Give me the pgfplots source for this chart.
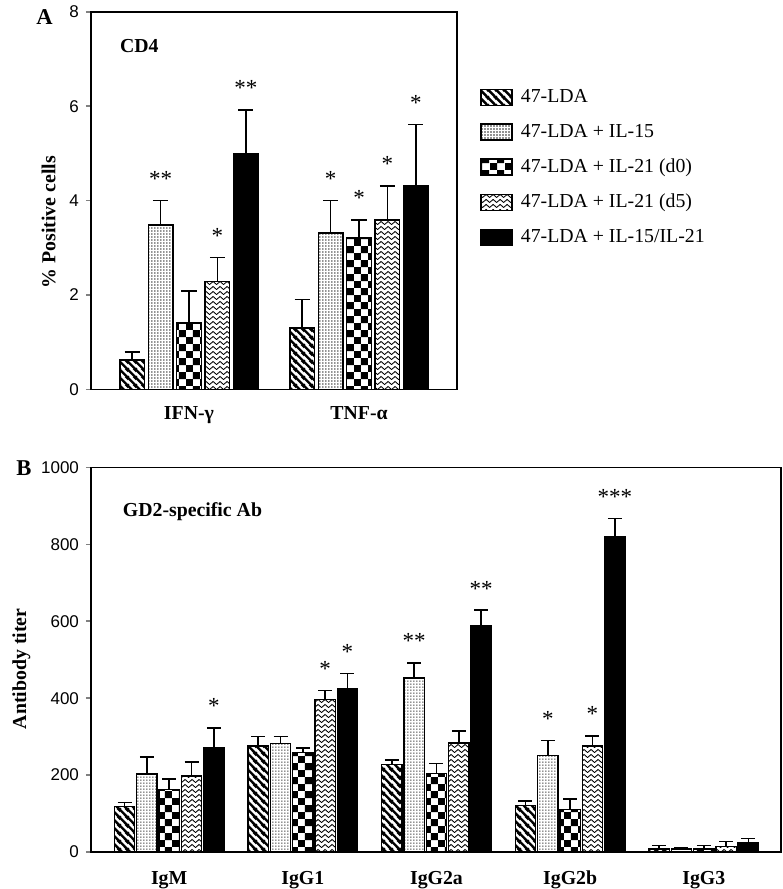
\documentclass[border=0pt]{standalone}
\usepackage{fontspec}
\setmainfont{Liberation Serif}
\newfontfamily\sansf{Liberation Sans}
\usepackage{pgfplots}
\pgfplotsset{compat=1.18}
\usetikzlibrary{patterns}

% fill patterns of the five groups
\pgfdeclarepatternformonly{stripes}{\pgfqpoint{0pt}{0pt}}{\pgfqpoint{4pt}{4pt}}{\pgfqpoint{4pt}{4pt}}{
  \pgfsetlinewidth{1.3pt}
  \pgfpathmoveto{\pgfqpoint{-1pt}{1pt}}\pgfpathlineto{\pgfqpoint{1pt}{-1pt}}
  \pgfpathmoveto{\pgfqpoint{-1pt}{5pt}}\pgfpathlineto{\pgfqpoint{5pt}{-1pt}}
  \pgfpathmoveto{\pgfqpoint{3pt}{5pt}}\pgfpathlineto{\pgfqpoint{5pt}{3pt}}
  \pgfusepath{stroke}}
\pgfdeclarepatternformonly{finedots}{\pgfqpoint{0pt}{0pt}}{\pgfqpoint{1.4pt}{1.4pt}}{\pgfqpoint{1.4pt}{1.4pt}}{
  \pgfpathrectangle{\pgfqpoint{0.2pt}{0.2pt}}{\pgfqpoint{0.6pt}{0.6pt}}
  \pgfusepath{fill}}
\pgfdeclarepatternformonly{checker}{\pgfqpoint{0pt}{0pt}}{\pgfqpoint{7.2pt}{7.2pt}}{\pgfqpoint{7.2pt}{7.2pt}}{
  \pgfpathrectangle{\pgfqpoint{0pt}{0pt}}{\pgfqpoint{3.6pt}{3.6pt}}
  \pgfpathrectangle{\pgfqpoint{3.6pt}{3.6pt}}{\pgfqpoint{3.6pt}{3.6pt}}
  \pgfusepath{fill}}
\pgfdeclarepatternformonly{zigzag}{\pgfqpoint{0pt}{0pt}}{\pgfqpoint{3.5pt}{2.6pt}}{\pgfqpoint{3.5pt}{2.6pt}}{
  \pgfsetlinewidth{0.5pt}
  \pgfpathmoveto{\pgfqpoint{-0.5pt}{0.07pt}}
  \pgfpathlineto{\pgfqpoint{1.75pt}{2.0pt}}
  \pgfpathlineto{\pgfqpoint{4.0pt}{0.07pt}}
  \pgfusepath{stroke}}

\pgfplotsset{
  panel/.style={
    scale only axis, clip=false,
    axis line style={line width=0.8pt},
    tick align=outside, ytick pos=left, xtick style={draw=none},
    ytick style={line width=0.8pt}, major tick length=2.5pt,
    yticklabel style={font=\sansf\fontsize{8.5}{9.5}\selectfont},
    /pgf/number format/assume math mode=true,
    /pgf/number format/1000 sep={},
    xticklabel style={font=\bfseries\fontsize{9.9}{11}\selectfont},
    ylabel style={font=\bfseries\fontsize{9.9}{11}\selectfont},
    xtick={0,1,2,3,4},
  },
  % bars are placed at their own x (group + offset), so error bars sit on them
  bar/.style={ybar, bar shift=0pt, draw=black, line width=0.7pt, bar width=#1,
    error bars/y dir=plus, error bars/y explicit,
    error bars/error bar style={line width=0.75pt, black}},
  capA/.style={error bars/error mark options={rotate=90, black, line width=0.75pt, mark size=3.8pt}},
  capB/.style={error bars/error mark options={rotate=90, black, line width=0.75pt, mark size=3.5pt}},
  stars/.style={draw=none, mark=none, forget plot, nodes near coords,
    point meta=explicit symbolic,
    nodes near coords style={font=\fontsize{11.5}{12}\selectfont, anchor=base,
      yshift=7pt, inner sep=0pt, text=black}},
}

\begin{document}
\begin{tikzpicture}
\path[use as bounding box] (0,0) rectangle (391pt,-444.5pt);

% panel A
\begin{axis}[panel,
  at={(45.5pt,-194.7pt)}, anchor=south west,
  width=183pt, height=188.8pt,
  xmin=-0.576, xmax=1.576, ymin=0, ymax=8, ytick={0,2,4,6,8},
  xticklabels={IFN-γ,TNF-α},
  xticklabel style={yshift=-2.5pt},
  ylabel={\% Positive cells},
  ylabel style={at={(ticklabel cs:0.443)}},
  legend style={at={(1.063,0.806)}, anchor=north west, draw=none, fill=none,
    font=\fontsize{9.9}{11}\selectfont, row sep=5.3pt, inner sep=0pt,
    nodes={inner xsep=4pt}},
  legend cell align=left,
  legend image code/.code={\draw[#1] (0pt,-4pt) rectangle (15.5pt,4pt);},
]
\addplot[bar=0.144, capA, pattern=stripes]
  coordinates {(-0.334,0.62) +- (0,0.17) (0.666,1.30) +- (0,0.61)};
\addplot[bar=0.144, capA, pattern=finedots]
  coordinates {(-0.167,3.48) +- (0,0.52) (0.833,3.31) +- (0,0.69)};
\addplot[bar=0.144, capA, pattern=checker]
  coordinates {(0,1.41) +- (0,0.67) (1,3.21) +- (0,0.38)};
\addplot[bar=0.144, capA, pattern=zigzag]
  coordinates {(0.167,2.29) +- (0,0.51) (1.167,3.59) +- (0,0.72)};
\addplot[bar=0.144, capA, fill=black]
  coordinates {(0.334,4.99) +- (0,0.93) (1.334,4.31) +- (0,1.30)};
\legend{47-LDA, 47-LDA + IL-15, 47-LDA + IL-21 (d0), 47-LDA + IL-21 (d5), 47-LDA + IL-15/IL-21}
\addplot[stars] coordinates {
  (-0.167,4.0)[**] (0.167,2.80)[*] (0.334,5.92)[**]
  (0.833,4.0)[*] (1,3.59)[*] (1.167,4.31)[*] (1.334,5.61)[*]};
\node[anchor=west, font=\bfseries\fontsize{9.9}{11}\selectfont] at (rel axis cs:0.06,0.909) {CD4};
\end{axis}

% panel B
\begin{axis}[panel,
  at={(45.5pt,-426pt)}, anchor=south west,
  width=345pt, height=192.3pt,
  xmin=-0.585, xmax=4.578, ymin=0, ymax=1000, ytick={0,200,...,1000},
  xticklabels={IgM,IgG1,IgG2a,IgG2b,IgG3},
  xticklabel style={yshift=-3.5pt},
  ylabel={Antibody titer},
  ylabel style={at={(ticklabel cs:0.476)}, yshift=-1.5pt},
]
\addplot[bar=0.153, capB, pattern=stripes]
  coordinates {(-0.334,118) +- (0,11) (0.666,276) +- (0,24) (1.666,228) +- (0,11) (2.666,121) +- (0,12) (3.666,8) +- (0,9)};
\addplot[bar=0.153, capB, pattern=finedots]
  coordinates {(-0.167,203) +- (0,44) (0.833,282) +- (0,18) (1.833,452) +- (0,40) (2.833,251) +- (0,39) (3.833,8) +- (0,4)};
\addplot[bar=0.153, capB, pattern=checker]
  coordinates {(0,163) +- (0,27) (1,259) +- (0,12) (2,204) +- (0,26) (3,110) +- (0,28) (4,8) +- (0,9)};
\addplot[bar=0.153, capB, pattern=zigzag]
  coordinates {(0.167,198) +- (0,36) (1.167,396) +- (0,24) (2.167,283) +- (0,32) (3.167,276) +- (0,26) (4.167,15) +- (0,12)};
\addplot[bar=0.153, capB, fill=black]
  coordinates {(0.334,271) +- (0,52) (1.334,425) +- (0,39) (2.334,589) +- (0,40) (3.334,819) +- (0,48) (4.334,24) +- (0,11)};
\addplot[stars] coordinates {
  (0.334,323)[*] (1.167,420)[*] (1.334,464)[*]
  (1.833,492)[**] (2.334,629)[**]
  (2.833,290)[*] (3.167,302)[*] (3.334,867)[***]};
\node[anchor=west, font=\bfseries\fontsize{9.9}{11}\selectfont] at (rel axis cs:0.036,0.886) {GD2-specific Ab};
\end{axis}

\node[font=\bfseries\fontsize{11.3}{12}\selectfont] at (22.25pt,-8.5pt) {A};
\node[font=\bfseries\fontsize{11.3}{12}\selectfont] at (12pt,-234.2pt) {B};
\end{tikzpicture}
\end{document}
